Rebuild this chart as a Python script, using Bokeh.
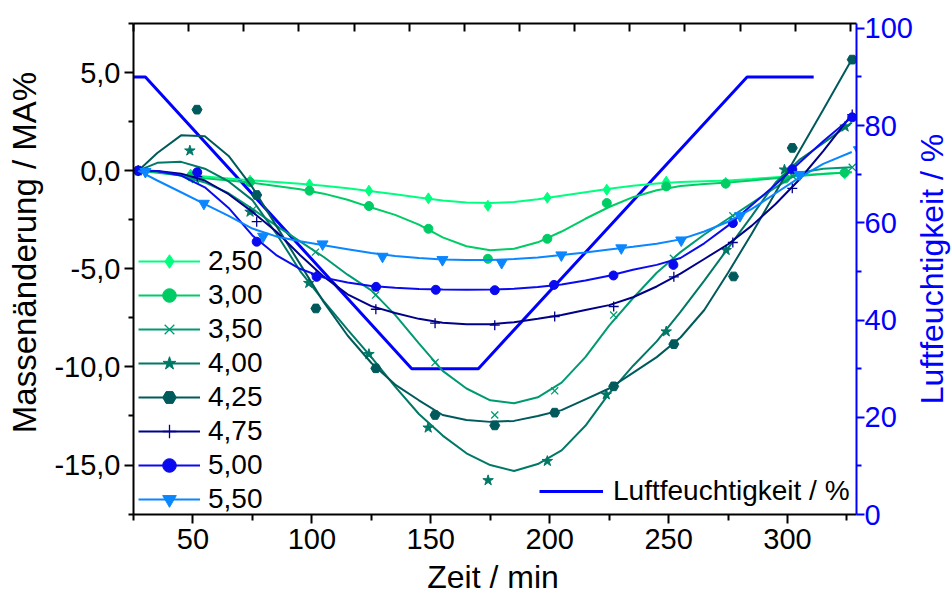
import math
from bokeh.plotting import figure
from bokeh.models import Range1d, LinearAxis, FixedTicker, Legend, LegendItem, Label
from bokeh.embed import file_html
from bokeh.resources import INLINE

FONT = "Liberation Sans"

# ---------------- data ----------------
series_labels = ["2,50", "3,00", "3,50", "4,00", "4,25", "4,75", "5,00", "5,50"]
series_colors = ["#00FF80", "#00CC66", "#009A72", "#007866", "#005A5C", "#000088", "#0A0AF0", "#0A86FF"]
series_markers = ["diamond", "circle", "x", "star", "hex", "cross", "circle", "inverted_triangle"]
series_sizes = [11, 9, 10, 11, 10, 10, 9, 11]

# measured points (time in min, mass change in MA%)
t_250 = [27, 49, 74, 99, 124, 149, 174, 199, 224, 249, 274, 299, 324]
m_250 = [0, -0.2, -0.51, -0.70, -1.02, -1.41, -1.79, -1.38, -0.97, -0.56, -0.62, -0.34, -0.14]
t_300 = [27, 49, 74, 99, 124, 149, 174, 199, 224, 249, 274, 299, 324]
m_300 = [0, -0.3, -0.58, -1.02, -1.80, -2.96, -4.49, -3.47, -1.65, -0.80, -0.66, -0.40, -0.10]
t_350 = [27, 51, 75, 101.5, 126.8, 151.8, 176.9, 202.1, 226.9, 252, 277, 302, 327.2]
m_350 = [0, -0.45, -2.0, -4.15, -6.34, -9.78, -12.45, -11.22, -7.36, -4.46, -2.30, -0.26, 0.17]
t_400 = [27, 48.7, 74, 98.7, 124, 148.9, 174.1, 199, 223.8, 249, 274.2, 298.7, 324.2]
m_400 = [0, 1.02, -2.1, -5.73, -9.35, -13.1, -15.78, -14.8, -11.41, -8.2, -4.05, 0.05, 2.24]
t_425 = [27, 51.7, 76.8, 101.7, 126.9, 151.8, 176.9, 202.1, 226.9, 252.2, 277.3, 302, 327.2]
m_425 = [0, 3.11, -1.24, -7.02, -10.07, -12.45, -12.98, -12.33, -10.99, -8.84, -5.39, 1.16, 5.66]
t_475 = [27, 51.8, 76.8, 101.8, 126.9, 151.8, 176.9, 202.1, 226.9, 252.2, 277, 302, 327.2]
m_475 = [0, -0.3, -2.6, -5.3, -7.06, -7.77, -7.87, -7.43, -6.92, -5.41, -3.66, -0.90, 2.86]
t_500 = [27, 51.8, 76.8, 102, 127, 152.1, 176.9, 201.8, 226.8, 252, 277, 302, 327.2]
m_500 = [0, -0.08, -3.62, -5.41, -5.92, -6.07, -6.09, -5.82, -5.34, -4.80, -2.67, 0.07, 2.72]
t_550 = [30, 54.6, 79.5, 104.5, 129.7, 154.9, 179.8, 204.9, 230.1, 255.3, 280, 305, 330]
m_550 = [-0.05, -1.67, -3.35, -3.74, -4.37, -4.54, -4.69, -4.30, -3.94, -3.54, -2.30, -0.20, 1.06]

# fitted curves at these times
fit_t = [27, 35, 45, 55, 65, 75, 85, 95, 105, 115, 125, 135, 145, 155, 165, 175,
         185, 195, 205, 215, 225, 235, 245, 255, 265, 275, 285, 295, 305, 315, 327]
fit_250 = [0, -0.08, -0.2, -0.3, -0.4, -0.5, -0.58, -0.67, -0.77, -0.9, -1.05, -1.2, -1.37, -1.52, -1.62, -1.65,
           -1.6, -1.46, -1.28, -1.1, -0.92, -0.77, -0.65, -0.58, -0.54, -0.5, -0.43, -0.33, -0.23, -0.15, -0.08]
fit_300 = [0, -0.1, -0.25, -0.38, -0.5, -0.62, -0.78, -0.95, -1.17, -1.48, -1.88, -2.25, -2.75, -3.4, -3.85, -4.05,
           -3.98, -3.65, -3.1, -2.45, -1.85, -1.35, -1.0, -0.78, -0.68, -0.6, -0.5, -0.38, -0.27, -0.17, -0.08]
fit_350 = [0, -0.05, -0.25, -0.6, -1.15, -1.95, -2.8, -3.6, -4.4, -5.3, -6.1, -7.35, -8.8, -10.2, -11.1, -11.7,
           -11.85, -11.55, -10.8, -9.5, -7.9, -6.5, -5.2, -4.15, -3.25, -2.45, -1.65, -0.85, -0.1, 0.1, 0.17]
fit_400 = [0, 0.4, 0.45, 0.1, -0.55, -1.5, -3.2, -5.1, -6.65, -8.1, -9.5, -11.0, -12.4, -13.5, -14.4, -15.0,
           -15.3, -14.95, -14.25, -13.0, -11.35, -9.95, -8.7, -7.2, -5.6, -3.95, -2.3, -0.6, 0.55, 1.4, 2.45]
fit_425 = [0, 0.9, 1.8, 1.75, 0.75, -0.85, -2.8, -4.75, -6.7, -8.4, -9.8, -10.9, -11.7, -12.45, -12.7, -12.8,
           -12.75, -12.5, -12.2, -11.65, -11.1, -10.3, -9.5, -8.5, -7.1, -5.2, -3.2, -1.1, 1.0, 3.1, 5.66]
fit_475 = [0, -0.02, -0.15, -0.5, -1.2, -2.1, -3.1, -4.3, -5.4, -6.3, -6.9, -7.25, -7.55, -7.75, -7.82, -7.82,
           -7.72, -7.55, -7.35, -7.1, -6.85, -6.45, -5.9, -5.25, -4.5, -3.75, -2.8, -1.7, -0.45, 1.0, 2.86]
fit_500 = [0, -0.02, -0.25, -0.85, -1.9, -3.3, -4.3, -5.0, -5.45, -5.7, -5.88, -5.97, -6.03, -6.06, -6.07, -6.06,
           -6.02, -5.93, -5.8, -5.6, -5.35, -5.05, -4.8, -4.45, -3.7, -2.8, -1.75, -0.7, 0.4, 1.5, 2.72]
fit_550 = [0, -0.5, -1.1, -1.7, -2.3, -2.95, -3.35, -3.6, -3.8, -4.0, -4.2, -4.35, -4.45, -4.52, -4.55, -4.55,
           -4.5, -4.42, -4.3, -4.17, -4.02, -3.88, -3.72, -3.5, -3.1, -2.6, -1.95, -1.15, -0.35, 0.35, 0.95]

# relative humidity program
rh_t = [25, 30, 142, 170, 283, 311]
rh_v = [90, 90, 30, 30, 90, 90]

# axes ticks / labels
x_ticks = [50, 100, 150, 200, 250, 300]
x_minor = [25, 75, 125, 175, 225, 275, 325]
y_ticks = [-15, -10, -5, 0, 5]
y_tick_labels = ["-15,0", "-10,0", "-5,0", "0,0", "5,0"]
y_minor = [-17.5, -12.5, -7.5, -2.5, 2.5, 7.5]
rh_ticks = [0, 20, 40, 60, 80, 100]
rh_minor = [10, 30, 50, 70, 90]
top_ticks = list(range(0, 14))

pts_t = [t_250, t_300, t_350, t_400, t_425, t_475, t_500, t_550]
pts_m = [m_250, m_300, m_350, m_400, m_425, m_475, m_500, m_550]
fits = [fit_250, fit_300, fit_350, fit_400, fit_425, fit_475, fit_500, fit_550]

X0, X1 = 25, 329
Y0, Y1 = -17.52, 7.5
FRAME_L, FRAME_T = 133, 23
FRAME_W_EST, FRAME_H_EST = 722, 491


def data_x(page_x):
    return X0 + (page_x - FRAME_L) * (X1 - X0) / FRAME_W_EST


def data_y(page_y):
    return Y1 - (page_y - FRAME_T) * (Y1 - Y0) / FRAME_H_EST


# ---------------- figure ----------------
p = figure(width=951, height=595,
           x_range=Range1d(X0, X1), y_range=Range1d(Y0, Y1),
           output_backend="svg", toolbar_location=None,
           min_border_left=FRAME_L, min_border_top=FRAME_T, min_border_right=89, min_border_bottom=81)
p.outline_line_color = None
p.xgrid.visible = False
p.ygrid.visible = False
p.background_fill_color = "white"
p.border_fill_color = "white"

p.extra_y_ranges = {"rh": Range1d(0, 101)}
p.extra_x_ranges = {"top": Range1d(0, FRAME_W_EST / 55.07)}


def style_axis(ax, color="#000000"):
    ax.axis_line_color = color
    ax.axis_line_width = 2
    ax.major_tick_line_color = color
    ax.minor_tick_line_color = color
    ax.major_tick_line_width = 2
    ax.minor_tick_line_width = 2
    ax.major_label_text_color = color
    ax.major_label_text_font = FONT
    ax.major_label_text_font_size = "29px"


xa = p.xaxis[0]
style_axis(xa)
xa.ticker = FixedTicker(ticks=x_ticks, minor_ticks=x_minor)
xa.major_tick_out = 9
xa.major_tick_in = 0
xa.minor_tick_out = 6
xa.minor_tick_in = 0
xa.major_label_standoff = 5

ya = p.yaxis[0]
style_axis(ya)
ya.ticker = FixedTicker(ticks=y_ticks, minor_ticks=y_minor)
ya.major_label_overrides = dict(zip(y_ticks, y_tick_labels))
ya.major_tick_out = 9
ya.major_tick_in = 0
ya.minor_tick_out = 5
ya.minor_tick_in = 0
ya.major_label_standoff = 4

ra = LinearAxis(y_range_name="rh", ticker=FixedTicker(ticks=rh_ticks, minor_ticks=rh_minor))
style_axis(ra, "#0000FF")
ra.major_tick_out = 8
ra.major_tick_in = 0
ra.minor_tick_out = 5
ra.minor_tick_in = 0
ra.major_label_standoff = 0
p.add_layout(ra, "right")

ta = LinearAxis(x_range_name="top", ticker=FixedTicker(ticks=top_ticks, minor_ticks=[]))
style_axis(ta)
ta.major_tick_in = 8
ta.major_tick_out = 0
ta.major_label_text_font_size = "1px"
ta.major_label_text_color = None
ta.major_label_standoff = 0
p.add_layout(ta, "above")

# axis titles (placed in the side panels so they are not clipped)
left_title = Label(x=data_x(24.5), y=data_y(252), text="Massenänderung / MA%",
                   angle=math.pi / 2, text_align="center", text_baseline="middle",
                   text_font=FONT, text_font_size="33px", text_color="#000000")
p.add_layout(left_title, "left")

rh_title = Label(x=data_x(930), y=data_y(268.5), text="Luftfeuchtigkeit / %",
                 angle=math.pi / 2, text_align="center", text_baseline="middle",
                 text_font=FONT, text_font_size="32px", text_color="#0000FF")
p.add_layout(rh_title, "right")

x_title = Label(x=data_x(492), y=data_y(576), text="Zeit / min",
                text_align="center", text_baseline="middle",
                text_font=FONT, text_font_size="32px", text_color="#000000")
p.add_layout(x_title, "below")

# humidity line
rh_line = p.line(rh_t, rh_v, y_range_name="rh", line_color="#0000FF", line_width=3)

items = []
for lab, col, mk, sz, tt, mm, ff in zip(series_labels, series_colors, series_markers,
                                         series_sizes, pts_t, pts_m, fits):
    lr = p.line(fit_t, ff, line_color=col, line_width=2)
    if mk in ("x", "cross"):
        sr = p.scatter(tt, mm, marker=mk, size=sz, line_color=col, line_width=1.3)
    else:
        sr = p.scatter(tt, mm, marker=mk, size=sz, fill_color=col, line_color=col)
    items.append(LegendItem(label=lab, renderers=[lr, sr]))

leg = Legend(items=items, location=(5, -2), orientation="vertical",
             glyph_width=62, glyph_height=34, label_height=34, label_standoff=8,
             spacing=0, padding=0, margin=0,
             border_line_color=None, background_fill_alpha=0,
             label_text_font=FONT, label_text_font_size="28px", label_text_color="#000000")
p.add_layout(leg)

leg2 = Legend(items=[LegendItem(label="Luftfeuchtigkeit / %", renderers=[rh_line])],
              location=(406, 6), glyph_width=64, glyph_height=34, label_height=34,
              label_standoff=10, spacing=0, padding=0, margin=0,
              border_line_color=None, background_fill_alpha=0,
              label_text_font=FONT, label_text_font_size="28px", label_text_color="#000000")
p.add_layout(leg2)

open("out.html", "w").write(file_html(p, INLINE))
